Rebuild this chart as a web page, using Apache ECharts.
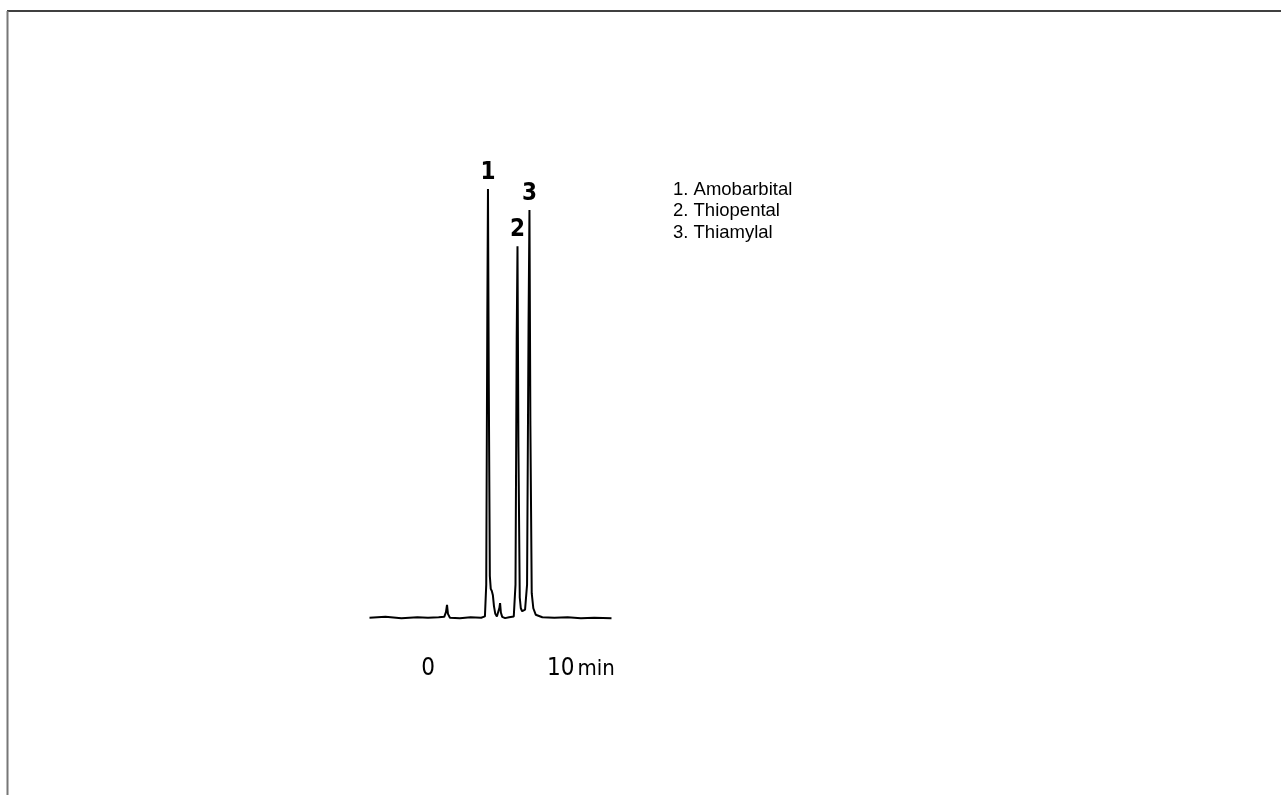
<!DOCTYPE html>
<html>
<head>
<meta charset="utf-8">
<script src="https://cdn.jsdelivr.net/npm/echarts@6/dist/echarts.min.js"></script>
<style>
html,body{margin:0;padding:0;background:#fff;}
#chart{width:1281px;height:795px;}
</style>
</head>
<body>
<div id="chart"></div>
<script>
// retention time (min) and detector signal (relative units)
var times = [-4.4, -3.2, -2, -0.8, 0, 0.8, 1.22, 1.35, 1.43, 1.5, 1.65, 2.4, 3.2, 4.0, 4.28, 4.38, 4.46, 4.51, 4.57, 4.65, 4.72, 4.8, 4.88, 4.96, 5.06, 5.18, 5.3, 5.37, 5.42, 5.48, 5.58, 5.8, 6.1, 6.45, 6.58, 6.67, 6.73, 6.8, 6.9, 6.98, 7.08, 7.18, 7.3, 7.45, 7.56, 7.63, 7.7, 7.8, 7.92, 8.1, 8.6, 9.5, 10.5, 11.5, 12.5, 13.8];
var signal = [0.3, 0.5, 0.2, 0.4, 0.3, 0.4, 0.5, 1.6, 3.3, 1.2, 0.3, 0.2, 0.4, 0.3, 0.6, 8, 70, 100, 55, 10, 7, 6.5, 5.5, 3, 1.2, 0.6, 0.6, 2.6, 3.7, 1.5, 0.5, 0.2, 0.4, 0.6, 8, 65, 86.7, 40, 5, 2.5, 1.8, 1.6, 2.2, 8, 68, 95.1, 45, 6, 2.5, 1.0, 0.4, 0.3, 0.4, 0.2, 0.3, 0.2];
var peakTimes = [4.51, 6.73, 7.63];
var peakHeights = [100, 86.7, 95.1];
var peakLabels = ['1', '2', '3'];
var compoundNames = ['1. Amobarbital', '2. Thiopental', '3. Thiamylal'];
var axisTicks = [0, 10];
var axisUnit = 'min';

var labelFont = 'Liberation Sans Narrow, DejaVu Sans Condensed, Liberation Sans, sans-serif';
var peakLabelOffsets = [[0, 0], [1, 0], [2, 0]];
var lineData = times.map(function (t, i) { return [t, signal[i]]; });
var peakData = peakTimes.map(function (t, k) {
  return {
    value: [t, peakHeights[k]],
    label: { formatter: peakLabels[k], offset: peakLabelOffsets[k], color: '#000', opacity: 1 }
  };
});

var chart = echarts.init(document.getElementById('chart'), null, { renderer: 'canvas' });
chart.setOption({
  animation: false,
  backgroundColor: '#fff',
  grid: { left: 369.5, width: 242, top: 189, bottom: 176, containLabel: false },
  xAxis: {
    type: 'value',
    min: -4.4,
    max: 13.8,
    axisLine: { show: false },
    axisTick: { show: false },
    splitLine: { show: false },
    axisLabel: {
      customValues: axisTicks,
      margin: 38,
      color: '#000',
      fontFamily: labelFont,
      fontSize: 24,
      formatter: function (v) {
        return v === axisTicks[axisTicks.length - 1] ? '{p|}' + v + '{m|' + axisUnit + '}' : String(v);
      },
      rich: {
        p: { width: 40 },
        m: { fontFamily: labelFont, fontSize: 22, color: '#000', padding: [0, 0, 0, 3] }
      }
    }
  },
  yAxis: {
    type: 'value',
    min: 0,
    max: 100,
    show: false
  },
  series: [{
    type: 'line',
    data: lineData,
    symbol: 'none',
    smooth: false,
    lineStyle: { color: '#000', width: 2 },
    z: 2
  }, {
    type: 'scatter',
    data: peakData,
    symbolSize: 2,
    itemStyle: { color: '#fff', opacity: 1 },
    label: {
      show: true,
      position: 'top',
      distance: 3,
      fontFamily: labelFont,
      fontSize: 24,
      fontWeight: 'bold',
      color: '#000',
      textBorderWidth: 0
    },
    labelLayout: { hideOverlap: false },
    silent: true,
    z: 1
  }],
  graphic: [
    { type: 'line', shape: { x1: 7, y1: 11, x2: 1281, y2: 11 }, style: { stroke: '#000', lineWidth: 1.5 } },
    { type: 'line', shape: { x1: 7.5, y1: 11, x2: 7.5, y2: 795 }, style: { stroke: '#777', lineWidth: 2 } },
    {
      type: 'text', left: 673, top: 179,
      style: {
        text: compoundNames.join('\n'),
        fontFamily: 'Liberation Sans, Arial, sans-serif',
        fontSize: 18.5,
        lineHeight: 21.5,
        fill: '#000'
      }
    }
  ]
});
</script>
</body>
</html>
